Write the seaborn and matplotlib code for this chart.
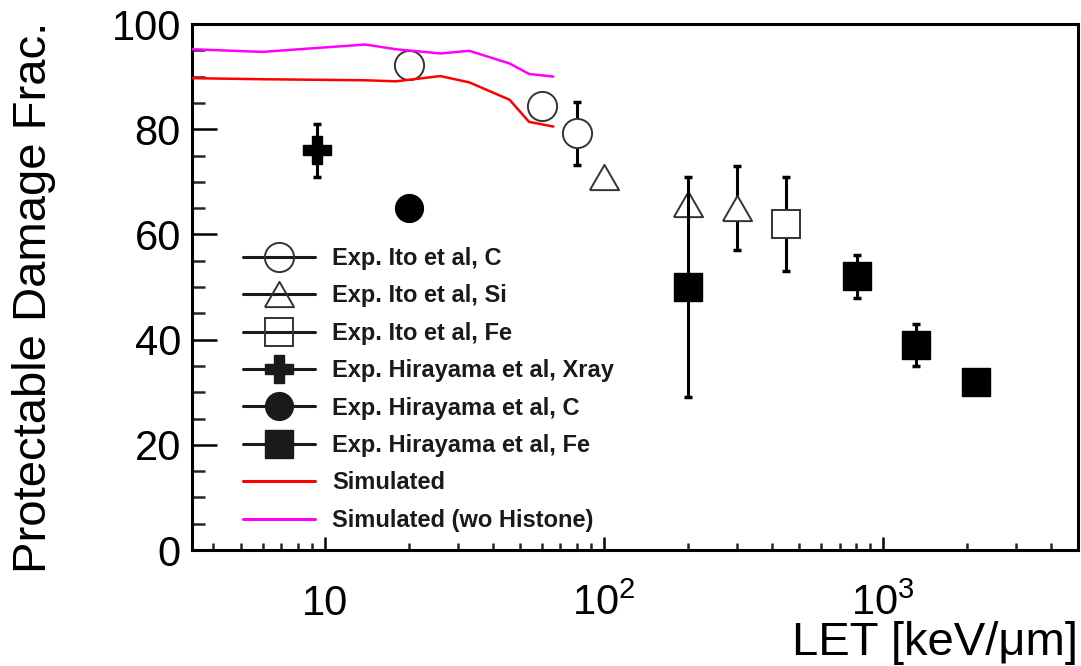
import matplotlib
matplotlib.use("Agg")
import matplotlib.pyplot as plt
import seaborn as sns
import pandas as pd
from matplotlib.lines import Line2D
from matplotlib.ticker import FixedLocator, FixedFormatter, MultipleLocator, LogLocator, NullFormatter

# values
ito_c_let = [20, 60, 80]
ito_c_val = [92.2, 84.4, 79.2]
ito_c_err = [0, 0, 6]

ito_si_let = [100, 200, 300]
ito_si_val = [71.0, 65.8, 65.0]
ito_si_err = [0, 0, 8]

ito_fe_let = [448]
ito_fe_val = [62.0]
ito_fe_err = [9]

hira_xray_let = [9.4]
hira_xray_val = [76.0]
hira_xray_err = [5]

hira_c_let = [20]
hira_c_val = [65.0]

hira_fe_let = [200, 805, 1310, 2150]
hira_fe_val = [50.0, 52.0, 39.0, 32.0]
hira_fe_err = [21, 4, 4, 0]

sim_let = [3.35, 6.0, 14.0, 18.0, 26.0, 33.0, 46.0, 54.0, 66.0]
sim_val = [89.7, 89.5, 89.3, 89.1, 90.1, 88.9, 85.6, 81.4, 80.5]
sim_nohist_val = [95.2, 94.7, 96.1, 95.2, 94.4, 94.9, 92.5, 90.5, 90.0]

x_ticks = [10, 100, 1000]
x_tick_labels = ["10", "$10^{2}$", "$10^{3}$"]

sns.set_theme(style="ticks")
plt.rcParams['font.family'] = ['Liberation Sans', 'DejaVu Sans']
plt.rcParams['mathtext.fontset'] = 'custom'
plt.rcParams['mathtext.rm'] = 'Liberation Sans'
plt.rcParams['mathtext.default'] = 'regular'

fig = plt.figure(figsize=(10.81, 6.66), dpi=100)
ax = fig.add_axes([192 / 1081, 116 / 666, 886 / 1081, 526 / 666])
ax.set_xscale('log')

edge = '#333333'
tri = [(-1, -0.866), (1, -0.866), (0, 0.866), (-1, -0.866)]
ms = 20


def err_bars(x, y, e, z):
    pts = [(a, b, c) for a, b, c in zip(x, y, e) if c > 0]
    if not pts:
        return
    xs, ys, es = zip(*pts)
    ax.errorbar(xs, ys, yerr=es, fmt='none', ecolor='black', elinewidth=2.2,
                capsize=3, capthick=2.5, zorder=z)


# open markers (Ito et al)
err_bars(ito_c_let, ito_c_val, ito_c_err, 2)
err_bars(ito_si_let, ito_si_val, ito_si_err, 2)
err_bars(ito_fe_let, ito_fe_val, ito_fe_err, 2)
ax.plot(ito_c_let, ito_c_val, ls='none', marker='o', ms=21, mfc='white', mec=edge, mew=1.4, zorder=3)
ax.plot(ito_si_let, ito_si_val, ls='none', marker=tri, ms=21, mfc='white', mec=edge, mew=1.4, zorder=3)
ax.plot(ito_fe_let, ito_fe_val, ls='none', marker='s', ms=ms, mfc='white', mec=edge, mew=1.4, zorder=3)

# filled markers (Hirayama et al)
err_bars(hira_xray_let, hira_xray_val, hira_xray_err, 4)
ax.plot(hira_xray_let, hira_xray_val, ls='none', marker='P', ms=ms, color='black', zorder=5)
ax.plot(hira_c_let, hira_c_val, ls='none', marker='o', ms=ms, color='black', zorder=5)
err_bars(hira_fe_let, hira_fe_val, hira_fe_err, 4)
ax.plot(hira_fe_let, hira_fe_val, ls='none', marker='s', ms=ms, color='black', zorder=5)

# simulated curves
sim_df = pd.DataFrame({"LET": sim_let, "Simulated": sim_val, "Simulated (wo Histone)": sim_nohist_val})
sns.lineplot(data=sim_df, x="LET", y="Simulated", ax=ax, color='#ff0000', lw=1.8, zorder=6, legend=False)
sns.lineplot(data=sim_df, x="LET", y="Simulated (wo Histone)", ax=ax, color='#ff00ff', lw=1.8, zorder=6, legend=False)

ax.set_xlim(3.35, 5000)
ax.set_ylim(0, 100)

ax.xaxis.set_major_locator(FixedLocator(x_ticks))
ax.xaxis.set_major_formatter(FixedFormatter(x_tick_labels))
ax.xaxis.set_minor_locator(LogLocator(base=10, subs=range(2, 10), numticks=20))
ax.xaxis.set_minor_formatter(NullFormatter())
ax.yaxis.set_major_locator(MultipleLocator(20))
ax.yaxis.set_minor_locator(MultipleLocator(5))

for s in ax.spines.values():
    s.set_visible(True)
    s.set_linewidth(2.2)
    s.set_color('black')

ax.tick_params(top=False, right=False)
ax.tick_params(axis='y', which='major', direction='in', length=18, width=1.8, labelsize=30, pad=8, colors='black')
ax.tick_params(axis='y', which='minor', direction='in', length=9.5, width=1.8)
ax.tick_params(axis='x', which='major', direction='in', length=9.5, width=1.8, labelsize=30, pad=47, colors='black')
ax.tick_params(axis='x', which='minor', direction='in', length=5, width=1.8)
for t in ax.xaxis.get_major_ticks():
    t.label1.set_va('baseline')

ax.set_xlabel('LET [keV/μm]', fontsize=34, color='black')
ax.xaxis.set_label_coords(1.0, -0.1996)
ax.xaxis.label.set_ha('right')
ax.xaxis.label.set_va('baseline')

ax.set_ylabel('Protectable Damage Frac.', fontsize=34, color='black')
ax.yaxis.set_label_coords(-0.1535, 1.004)
ax.yaxis.label.set_ha('right')

handles = [
    Line2D([], [], color='k', lw=2.2, marker='o', ms=21, mfc='none', mec=edge, mew=1.4, label='Exp. Ito et al, C'),
    Line2D([], [], color='k', lw=2.2, marker=tri, ms=21, mfc='none', mec=edge, mew=1.4, label='Exp. Ito et al, Si'),
    Line2D([], [], color='k', lw=2.2, marker='s', ms=ms, mfc='none', mec=edge, mew=1.4, label='Exp. Ito et al, Fe'),
    Line2D([], [], color='k', lw=2.2, marker='P', ms=ms, label='Exp. Hirayama et al, Xray'),
    Line2D([], [], color='k', lw=2.2, marker='o', ms=ms, label='Exp. Hirayama et al, C'),
    Line2D([], [], color='k', lw=2.2, marker='s', ms=ms, label='Exp. Hirayama et al, Fe'),
    Line2D([], [], color='#ff0000', lw=2.2, label='Simulated'),
    Line2D([], [], color='#ff00ff', lw=2.2, label='Simulated (wo Histone)'),
]
leg = ax.legend(handles=handles, loc='upper left', bbox_to_anchor=(0.0576, 0.576),
                frameon=False, prop={'weight': 'bold', 'size': 17},
                handlelength=3.05, handletextpad=0.72, labelspacing=0.61,
                borderpad=0, borderaxespad=0)
for txt in leg.get_texts():
    txt.set_color('#1a1a1a')

fig.savefig('out.png', dpi=100)
plt.close(fig)
